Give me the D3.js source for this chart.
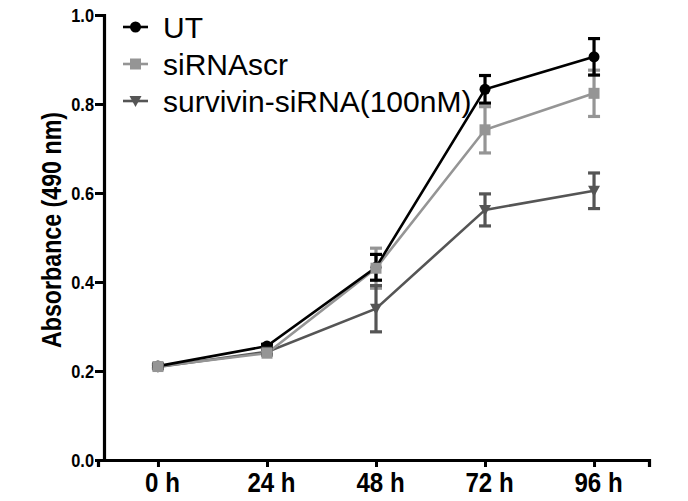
<!DOCTYPE html>
<html>
<head>
<meta charset="utf-8">
<script src="https://cdn.jsdelivr.net/npm/d3@7/dist/d3.min.js"></script>
<style>
  html, body { margin: 0; padding: 0; background: #fff; }
  svg { display: block; }
</style>
</head>
<body>
<svg id="chart" width="688" height="501"></svg>
<script>
// ---- data ----
const hours = [0, 24, 48, 72, 96];
const xTickLabels = ["0 h", "24 h", "48 h", "72 h", "96 h"];
const yTicks = [0.0, 0.2, 0.4, 0.6, 0.8, 1.0];
const seriesNames = ["UT", "siRNAscr", "survivin-siRNA(100nM)"];
const utMean = [0.211, 0.256, 0.433, 0.833, 0.906];
const utErr = [0.004, 0.004, 0.029, 0.031, 0.041];
const scrMean = [0.210, 0.240, 0.431, 0.742, 0.824];
const scrErr = [0.004, 0.005, 0.045, 0.052, 0.052];
const survMean = [0.209, 0.243, 0.340, 0.562, 0.605];
const survErr = [0.004, 0.005, 0.052, 0.036, 0.040];

const series = [
  { name: seriesNames[0], mean: utMean, err: utErr, color: "#000000", shape: "circle" },
  { name: seriesNames[1], mean: scrMean, err: scrErr, color: "#959595", shape: "square" },
  { name: seriesNames[2], mean: survMean, err: survErr, color: "#555555", shape: "triangle" }
];

const svg = d3.select("#chart");
const x = d3.scaleLinear().domain([-13.2, 108.1]).range([98, 649]);
const y = d3.scaleLinear().domain([0, 1]).range([460, 15]);

const boldFont = "'Liberation Sans', Arial, sans-serif";

// condense text horizontally to emulate a narrow bold face
function condense(sel, f) {
  sel.each(function () {
    const w = this.getComputedTextLength();
    d3.select(this).attr("textLength", w * f).attr("lengthAdjust", "spacingAndGlyphs");
  });
}

// y axis
const yAxis = svg.append("g").attr("transform", "translate(104,0)")
  .call(d3.axisLeft(y).tickValues(yTicks).tickFormat(d3.format(".1f")).tickSizeOuter(0).tickSize(9).tickPadding(1));
yAxis.select(".domain").attr("stroke", "#000").attr("stroke-width", 3.2);
yAxis.selectAll(".tick line").attr("stroke", "#000").attr("stroke-width", 3);
yAxis.selectAll(".tick text").attr("font-family", boldFont).attr("font-weight", "bold")
  .attr("font-size", 19).attr("fill", "#000").attr("dy", "0.36em");
condense(yAxis.selectAll(".tick text"), 0.86);

// x axis
const xAxis = svg.append("g").attr("transform", "translate(0,460)")
  .call(d3.axisBottom(x).tickValues(hours).tickFormat((d, i) => xTickLabels[i]).tickSizeOuter(0).tickSize(7).tickPadding(5));
xAxis.select(".domain").attr("stroke", "#000").attr("stroke-width", 3.2);
xAxis.selectAll(".tick line").attr("stroke", "#000").attr("stroke-width", 3);
xAxis.selectAll(".tick text").attr("font-family", boldFont).attr("font-weight", "bold")
  .attr("font-size", 28).attr("fill", "#000").attr("dx", 4);
condense(xAxis.selectAll(".tick text"), 0.86);

// y title
const yTitle = svg.append("text")
  .attr("transform", "translate(61,230) rotate(-90)")
  .attr("text-anchor", "middle")
  .attr("font-family", boldFont).attr("font-weight", "bold").attr("font-size", 27)
  .attr("fill", "#000")
  .text("Absorbance (490 nm)");
yTitle.attr("textLength", 236).attr("lengthAdjust", "spacingAndGlyphs");

const line = d3.line().x((d, i) => x(hours[i])).y(d => y(d));

function drawMarker(g, shape, color, cx, cy) {
  if (shape === "circle") {
    g.append("circle").attr("cx", cx).attr("cy", cy).attr("r", 5.5).attr("fill", color);
  } else if (shape === "square") {
    g.append("rect").attr("x", cx - 5.5).attr("y", cy - 5.5).attr("width", 11).attr("height", 11).attr("fill", color);
  } else {
    g.append("path").attr("d", `M${cx - 6},${cy - 5} L${cx + 6},${cy - 5} L${cx},${cy + 6} Z`).attr("fill", color);
  }
}

// lines
[2, 1, 0].forEach(k => {
  const s = series[k];
  svg.append("path").datum(s.mean).attr("d", line)
    .attr("fill", "none").attr("stroke", s.color).attr("stroke-width", 2.6);
});

// error bars
[1, 0, 2].forEach(k => {
  const s = series[k];
  const g = svg.append("g");
  s.mean.forEach((m, i) => {
    const cx = x(hours[i]);
    const y1 = y(m + s.err[i]), y0 = y(m - s.err[i]);
    g.append("line").attr("x1", cx).attr("x2", cx).attr("y1", y1).attr("y2", y0)
      .attr("stroke", s.color).attr("stroke-width", 3.2);
    [y1, y0].forEach(yy => {
      g.append("line").attr("x1", cx - 6).attr("x2", cx + 6).attr("y1", yy).attr("y2", yy)
        .attr("stroke", s.color).attr("stroke-width", 3.2);
    });
  });
});

// markers
[0, 2, 1].forEach(k => {
  const s = series[k];
  const g = svg.append("g");
  s.mean.forEach((m, i) => drawMarker(g, s.shape, s.color, x(hours[i]), y(m)));
});

// legend
const legendRows = [27, 64, 101];
series.forEach((s, k) => {
  const g = svg.append("g");
  const ly = legendRows[k];
  g.append("line").attr("x1", 123).attr("x2", 148).attr("y1", ly).attr("y2", ly)
    .attr("stroke", s.color).attr("stroke-width", 2.6);
  drawMarker(g, s.shape, s.color, 135.5, ly);
  g.append("text").attr("x", 163).attr("y", ly).attr("dy", "0.36em")
    .attr("font-family", "'Liberation Sans', Arial, sans-serif").attr("font-size", 30)
    .attr("fill", "#000").text(s.name);
});
</script>
</body>
</html>
